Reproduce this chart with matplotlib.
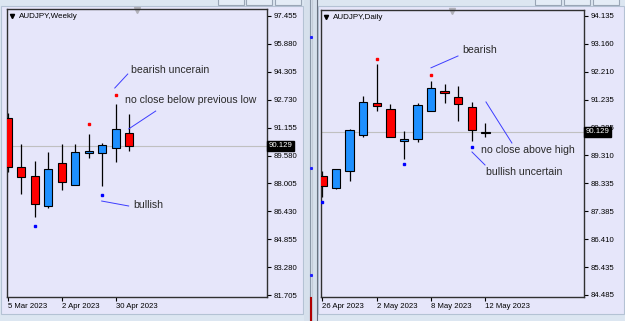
import numpy as np
import matplotlib
matplotlib.use("Agg")
import matplotlib.pyplot as plt
from matplotlib.patches import Rectangle
import matplotlib.transforms as mtransforms

plt.rcParams['font.family'] = ['Liberation Sans', 'DejaVu Sans']

W, H = 625, 321

#----------WEEKLY DATA----------
weekly_dates = ["5 Mar 2023", "12 Mar 2023", "19 Mar 2023", "26 Mar 2023", "2 Apr 2023",
                "9 Apr 2023", "16 Apr 2023", "23 Apr 2023", "30 Apr 2023", "7 May 2023"]
weekly_open = [91.70, 88.93, 88.42, 86.73, 89.16, 87.92, 89.72, 89.72, 90.00, 90.85]
weekly_high = [91.98, 90.23, 89.27, 89.78, 90.23, 90.23, 90.79, 90.29, 92.49, 91.92]
weekly_low = [88.65, 87.41, 86.10, 86.62, 87.63, 87.92, 89.44, 87.86, 89.21, 89.84]
weekly_close = [88.93, 88.37, 86.84, 88.82, 88.09, 89.78, 89.83, 90.17, 91.08, 90.13]
weekly_red_dots = {6: 91.36, 8: 92.99}
weekly_blue_dots = {2: 85.60, 7: 87.35}
weekly_tick_idx = [0, 4, 8]
weekly_prices = [97.455 - 1.575 * k for k in range(11)]

#----------DAILY DATA----------
daily_dates = ["26 Apr 2023", "27 Apr 2023", "28 Apr 2023", "1 May 2023", "2 May 2023",
               "3 May 2023", "4 May 2023", "5 May 2023", "8 May 2023", "9 May 2023",
               "10 May 2023", "11 May 2023", "12 May 2023"]
daily_open = [88.60, 88.18, 88.77, 90.02, 91.13, 90.92, 89.81, 89.88, 90.85, 91.54, 91.33, 90.99, 90.08]
daily_high = [88.77, 88.84, 90.23, 91.37, 92.48, 91.09, 90.16, 91.13, 91.89, 91.78, 91.71, 91.16, 90.43]
daily_low = [87.87, 88.15, 88.43, 89.95, 90.85, 89.95, 89.19, 89.78, 90.85, 91.13, 90.50, 89.81, 89.95]
daily_close = [88.25, 88.84, 90.19, 91.16, 91.02, 89.95, 89.88, 91.06, 91.64, 91.47, 91.09, 90.19, 90.13]
daily_red_dots = {4: 92.65, 8: 92.09}
daily_blue_dots = {0: 87.70, 6: 89.02, 11: 89.60}
daily_tick_idx = [0, 4, 8, 12]
daily_price_labels = ["94.135", "93.160", "92.210", "91.235", "90.285", "89.310",
                      "88.335", "87.385", "86.410", "85.435", "84.485"]

current_price = 90.129

BG = '#e6e6fa'
UP = '#1e90ff'
DOWN = '#ff0000'
LINE = '#3c3cff'
TXT = '#2a2a2a'


def px_rect(x0, y0, x1, y1):
    return [x0 / W, 1 - y1 / H, (x1 - x0) / W, (y1 - y0) / H]


def draw_candles(ax, o, h, l, c):
    x = np.arange(len(o))
    o, h, l, c = map(np.array, (o, h, l, c))
    ax.vlines(x, l, h, color='black', lw=0.9, zorder=2)
    colors = [UP if cc >= oo else DOWN for oo, cc in zip(o, c)]
    ax.bar(x, np.abs(c - o), bottom=np.minimum(o, c), width=0.62,
           color=colors, edgecolor='black', linewidth=0.8, zorder=3)


def style_chart(ax, title, tick_idx, dates):
    ax.set_facecolor(BG)
    for s in ax.spines.values():
        s.set_color('#303030')
        s.set_linewidth(1.0)
    ax.yaxis.tick_right()
    ax.tick_params(axis='both', direction='out', length=3, width=0.8,
                   labelsize=5.6, pad=1.5, colors='black')
    ax.set_xticks(tick_idx)
    ax.set_xticklabels([dates[i] for i in tick_idx])
    plt.setp(ax.get_xticklabels(), ha='left')
    ax.axhline(current_price, color='#c0c0c0', lw=0.8, zorder=1)
    ax.plot([0.019], [0.975], marker='v', ms=3, color='black',
            transform=ax.transAxes, clip_on=False)
    ax.text(0.045, 0.975, title, transform=ax.transAxes, fontsize=5.8,
            va='center', ha='left', color='black')
    ax.plot([0.5], [0.995], marker='v', ms=4, color='#b0b0b8',
            transform=ax.transAxes, clip_on=False)
    tr = mtransforms.blended_transform_factory(ax.transAxes, ax.transData)
    ax.text(1.006, current_price, "%.3f" % current_price, transform=tr,
            fontsize=5.6, color='white', ha='left', va='center', zorder=5,
            bbox=dict(boxstyle='square,pad=0.18', fc='black', ec='black'))


def note(ax, text, start, end, text_pos):
    ax.plot([start[0], end[0]], [start[1], end[1]], color=LINE, lw=0.7, zorder=4)
    ax.text(text_pos[0], text_pos[1], text, fontsize=7.6, color=TXT,
            ha='left', va='center', zorder=4)


fig = plt.figure(figsize=(W / 100, H / 100), dpi=100)
fig.patch.set_facecolor('#dce6f1')

#----------WINDOW DECORATION----------
bg = fig.add_axes([0, 0, 1, 1])
bg.set_xlim(0, W)
bg.set_ylim(H, 0)
bg.axis('off')
bg.add_patch(Rectangle((1, 6), 302, 308, fc=BG, ec='#b4c2d4', lw=0.8))
bg.add_patch(Rectangle((318, 6), 306, 308, fc=BG, ec='#b4c2d4', lw=0.8))
bg.add_patch(Rectangle((304, 0), 13, H, fc='#d6e0ec', ec='none'))
bg.plot([309.5, 309.5], [0, H], color='#8a96a6', lw=0.8)
bg.plot([312, 312], [0, H], color='#c4ccd8', lw=0.8)
bg.plot([316.5, 316.5], [0, H], color='#6a7280', lw=0.8)
bg.plot([310.5, 310.5], [298, H], color='#b00000', lw=1.5)
bg.plot([310.5] * 3, [37, 168, 275], ls='none', marker='s', ms=1.2, color='#2020ff')
for x0 in (218, 246, 275, 535, 564, 593):
    bg.add_patch(Rectangle((x0, -4), 26, 9, fc='#e4ecf6', ec='#9aa6b6', lw=0.8))

#----------WEEKLY CHART----------
ax1 = fig.add_axes(px_rect(7, 9, 267, 297))
draw_candles(ax1, weekly_open, weekly_high, weekly_low, weekly_close)
ax1.plot(list(weekly_red_dots), list(weekly_red_dots.values()), 's', ms=1.8, color=DOWN, zorder=4)
ax1.plot(list(weekly_blue_dots), list(weekly_blue_dots.values()), 's', ms=1.8, color='#0000ff', zorder=4)
ax1.set_xlim(-0.05, 19.2)
ax1.set_ylim(81.593, 97.85)
ax1.set_yticks(weekly_prices)
ax1.set_yticklabels(["%.3f" % p for p in weekly_prices])
style_chart(ax1, "AUDJPY,Weekly", weekly_tick_idx, weekly_dates)
note(ax1, "bearish uncerain", (7.93, 93.39), (8.89, 94.18), (9.11, 94.41))
note(ax1, "no close below previous low", (8.96, 91.08), (10.96, 92.09), (8.67, 92.71))
note(ax1, "bullish", (6.96, 87.01), (8.96, 86.73), (9.33, 86.79))

#----------DAILY CHART----------
ax2 = fig.add_axes(px_rect(321, 10, 584, 297))
draw_candles(ax2, daily_open, daily_high, daily_low, daily_close)
ax2.plot(list(daily_red_dots), list(daily_red_dots.values()), 's', ms=1.8, color=DOWN, zorder=4)
ax2.plot(list(daily_blue_dots), list(daily_blue_dots.values()), 's', ms=1.8, color='#0000ff', zorder=4)
ax2.set_xlim(-0.11, 19.26)
ax2.set_ylim(84.415, 94.34)
ax2.set_yticks(np.linspace(94.135, 84.485, len(daily_price_labels)))
ax2.set_yticklabels(daily_price_labels)
style_chart(ax2, "AUDJPY,Daily", daily_tick_idx, daily_dates)
note(ax2, "bearish", (7.99, 92.34), (9.98, 92.75), (10.27, 92.96))
note(ax2, "no close above high", (12.04, 91.16), (13.95, 89.74), (11.67, 89.50))
note(ax2, "bullish uncertain", (11.01, 89.43), (11.97, 88.98), (12.04, 88.74))

fig.savefig("out.png", dpi=100, facecolor=fig.get_facecolor())
